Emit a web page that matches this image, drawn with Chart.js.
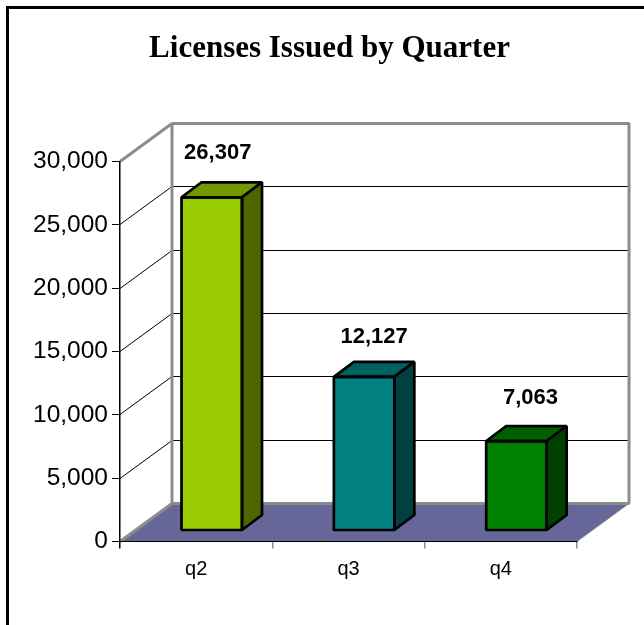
<!DOCTYPE html>
<html>
<head>
<meta charset="utf-8">
<title>Licenses Issued by Quarter</title>
<script src="https://cdn.jsdelivr.net/npm/chart.js@4/dist/chart.umd.min.js"></script>
<style>
html,body{margin:0;padding:0;background:#fff;overflow:hidden}
#wrap{position:relative;width:644px;height:625px}
#frame{position:absolute;left:6px;top:6px;right:0;bottom:0;border-left:3px solid #000;border-top:3px solid #000;pointer-events:none}
canvas{position:absolute;left:0;top:0}
</style>
</head>
<body>
<div id="wrap"><canvas id="c" width="644" height="625"></canvas><div id="frame"></div></div>
<script>
const chartTitle = 'Licenses Issued by Quarter';
const categories = ['q2', 'q3', 'q4'];
const licenses = [26307, 12127, 7063];
const frontColors = ['#99CC00', '#008080', '#008000'];
const topColors = ['#739900', '#006060', '#006000'];
const sideColors = ['#4D6600', '#004040', '#004000'];
const yMax = 30000;
const yStep = 5000;

const WALL_DX = 52, WALL_DY = -38;
const BAR_DX = 15.6, BAR_DY = -11;
const DEPTH_DX = 20, DEPTH_DY = -15;
const GRAY = '#8c8c8c';
const LABEL_NUDGE_X = [6, 10, 14];
const LABEL_NUDGE_Y = [-44.5, -39.5, -43.5];

function poly(ctx, pts, fill, stroke, lw) {
  ctx.beginPath();
  pts.forEach((p, i) => i ? ctx.lineTo(p[0], p[1]) : ctx.moveTo(p[0], p[1]));
  ctx.closePath();
  if (fill) { ctx.fillStyle = fill; ctx.fill(); }
  if (stroke) { ctx.strokeStyle = stroke; ctx.lineWidth = lw; ctx.lineJoin = 'bevel'; ctx.stroke(); }
}
function seg(ctx, x1, y1, x2, y2, color, lw) {
  ctx.beginPath(); ctx.moveTo(x1, y1); ctx.lineTo(x2, y2);
  ctx.strokeStyle = color; ctx.lineWidth = lw; ctx.stroke();
}

const box3d = {
  id: 'box3d',
  afterLayout(chart) {
    chart.titleBlock.left = 82;
  },
  beforeDraw(chart) {
    const { ctx, scales: { x, y } } = chart;
    const L = x.left, R = x.right, T = y.getPixelForValue(yMax), B = y.getPixelForValue(0);
    ctx.save();
    poly(ctx, [[L, B], [L + WALL_DX, B + WALL_DY], [R + WALL_DX, B + WALL_DY], [R, B]], '#666699');
    for (let v = yStep; v < yMax; v += yStep) {
      const py = Math.floor(y.getPixelForValue(v)) + 0.5;
      seg(ctx, L, py, L + WALL_DX, py + WALL_DY, '#000', 1);
      seg(ctx, L + WALL_DX, py + WALL_DY, R + WALL_DX, py + WALL_DY, '#000', 1);
    }
    seg(ctx, L, T, L + WALL_DX, T + WALL_DY, GRAY, 3);
    seg(ctx, L, B, L + WALL_DX, B + WALL_DY, GRAY, 3);
    seg(ctx, R, B, R + WALL_DX, B + WALL_DY, GRAY, 1);
    poly(ctx, [[L + WALL_DX, T + WALL_DY], [R + WALL_DX, T + WALL_DY], [R + WALL_DX, B + WALL_DY], [L + WALL_DX, B + WALL_DY]], null, GRAY, 3);
    ctx.restore();
  },
  beforeDatasetDraw(chart) {
    chart.ctx.save();
    chart.ctx.translate(BAR_DX, BAR_DY);
  },
  afterDatasetDraw(chart, args) {
    const ctx = chart.ctx;
    args.meta.data.forEach((el, i) => {
      const { x, y, width, base } = el.getProps(['x', 'y', 'width', 'base'], true);
      const l = x - width / 2, r = x + width / 2, t = y, b = base;
      poly(ctx, [[l, t], [l + DEPTH_DX, t + DEPTH_DY], [r + DEPTH_DX, t + DEPTH_DY], [r, t]], topColors[i], '#000', 2.7);
      poly(ctx, [[r, t], [r + DEPTH_DX, t + DEPTH_DY], [r + DEPTH_DX, b + DEPTH_DY], [r, b]], sideColors[i], '#000', 2.7);
      poly(ctx, [[l, t], [r, t], [r, b], [l, b]], null, '#000', 2.7);
    });
    ctx.restore();
  },
  afterDraw(chart) {
    const { ctx } = chart;
    const meta = chart.getDatasetMeta(0);
    ctx.save();
    ctx.font = 'bold 22px "Liberation Sans"';
    ctx.fillStyle = '#000';
    ctx.textAlign = 'center';
    ctx.textBaseline = 'middle';
    meta.data.forEach((el, i) => {
      ctx.fillText(licenses[i].toLocaleString('en-US'), el.x + BAR_DX + LABEL_NUDGE_X[i], el.y + BAR_DY + LABEL_NUDGE_Y[i]);
    });
    ctx.restore();
  }
};

new Chart(document.getElementById('c'), {
  type: 'bar',
  data: {
    labels: categories,
    datasets: [{
      data: licenses,
      backgroundColor: frontColors,
      borderWidth: 0,
      barPercentage: 0.397,
      categoryPercentage: 1,
      clip: false
    }]
  },
  options: {
    responsive: false,
    animation: false,
    layout: { padding: { left: 0, right: 67, top: 0, bottom: 0 } },
    plugins: {
      legend: { display: false },
      tooltip: { enabled: false },
      title: {
        display: true,
        text: chartTitle,
        color: '#000',
        font: { family: '"Liberation Serif"', size: 31, weight: 'bold', lineHeight: 1.2 },
        padding: { top: 30, bottom: 94.3 }
      }
    },
    scales: {
      x: {
        afterFit(s) { s.height = 83.5; },
        border: { display: true, color: '#000', width: 1 },
        grid: {
          drawOnChartArea: false, drawTicks: true, tickLength: 7, lineWidth: 1.5,
          color: (c) => c.index === 0 ? '#000' : GRAY
        },
        ticks: { color: '#000', padding: 9, font: { family: '"Liberation Sans"', size: 20 }, maxRotation: 0 }
      },
      y: {
        min: 0, max: yMax,
        afterFit(s) { s.width = 120; },
        border: { display: true, color: '#000', width: 1.5 },
        grid: { drawOnChartArea: false, drawTicks: true, tickLength: 8, color: '#000', lineWidth: 1 },
        ticks: {
          stepSize: yStep, color: '#000', padding: 4,
          font: { family: '"Liberation Sans"', size: 24.5 },
          callback: (v) => v.toLocaleString('en-US')
        }
      }
    }
  },
  plugins: [box3d]
});
</script>
</body>
</html>
